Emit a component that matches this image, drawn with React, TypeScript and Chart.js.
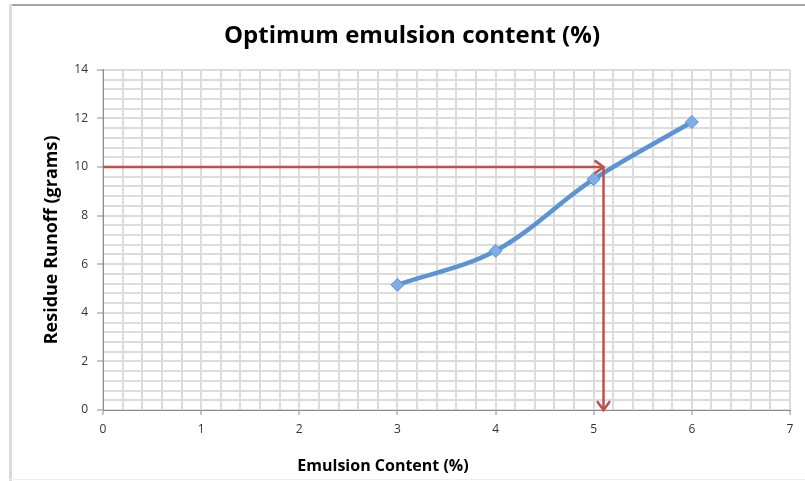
import React, { useEffect, useRef } from "react";
import { Chart, registerables } from "chart.js";

Chart.register(...registerables);

const chartTitle = "Optimum emulsion content (%)";
const xTitle = "Emulsion Content (%)";
const yTitle = "Residue Runoff (grams)";

const emulsionContent = [3, 4, 5, 6];
const residueRunoff = [5.15, 6.55, 9.5, 11.85];

const targetRunoff = 10;
const optimumContent = 5.1;

const xMin = 0, xMax = 7, xGridStep = 0.2, xLabelStep = 1;
const yMin = 0, yMax = 14, yGridStep = 0.4, yLabelStep = 2;

const FONT = "'Open Sans', Lato, sans-serif";
const RED = "#c0504d";
const BLUE = "#5b93d3";

const isMultiple = (v: number, step: number) =>
  Math.abs(v / step - Math.round(v / step)) < 1e-6;

const arrowPlugin = {
  id: "arrowHeads",
  afterDatasetsDraw(chart: any) {
    const ctx = chart.ctx;
    chart.data.datasets.forEach((ds: any, i: number) => {
      if (!ds.arrow) return;
      const meta = chart.getDatasetMeta(i);
      const pts = meta.data;
      if (pts.length < 2) return;
      const a = pts[pts.length - 2];
      const b = pts[pts.length - 1];
      const ang = Math.atan2(b.y - a.y, b.x - a.x);
      const len = 10;
      const spread = Math.PI / 5;
      ctx.save();
      ctx.strokeStyle = ds.borderColor;
      ctx.lineWidth = 2.5;
      ctx.lineCap = "round";
      ctx.beginPath();
      ctx.moveTo(b.x - len * Math.cos(ang - spread), b.y - len * Math.sin(ang - spread));
      ctx.lineTo(b.x, b.y);
      ctx.lineTo(b.x - len * Math.cos(ang + spread), b.y - len * Math.sin(ang + spread));
      ctx.stroke();
      ctx.restore();
    });
  },
};

const xTitlePlugin = {
  id: "xTitleText",
  afterDraw(chart: any) {
    const ctx = chart.ctx;
    ctx.save();
    ctx.font = `bold 16px ${FONT}`;
    ctx.fillStyle = "#000";
    ctx.textAlign = "center";
    ctx.textBaseline = "middle";
    ctx.fillText(xTitle, 383, 466);
    ctx.restore();
  },
};

export default function App() {
  const ref = useRef<HTMLCanvasElement>(null);
  useEffect(() => {
    document.body.style.margin = "0";
    const canvas = ref.current!;
    const chart = new Chart(canvas, {
      type: "line",
      data: {
        datasets: [
          {
            data: [
              { x: xMin, y: targetRunoff },
              { x: optimumContent, y: targetRunoff },
            ],
            borderColor: RED,
            borderWidth: 2.5,
            pointRadius: 0,
            tension: 0,
            arrow: true,
          } as any,
          {
            data: [
              { x: optimumContent, y: targetRunoff },
              { x: optimumContent, y: yMin },
            ],
            borderColor: RED,
            borderWidth: 2.5,
            pointRadius: 0,
            tension: 0,
            arrow: true,
          } as any,
          {
            data: emulsionContent.map((x, i) => ({ x, y: residueRunoff[i] })),
            borderColor: BLUE,
            borderWidth: 4.5,
            tension: 0.35,
            pointStyle: "rectRot",
            pointRadius: 6.5,
            pointBackgroundColor: "#7eaee6",
            pointBorderColor: "#5b93d3",
            pointBorderWidth: 1,
          },
        ],
      },
      options: {
        responsive: false,
        animation: false,
        devicePixelRatio: 1,
        layout: { padding: { left: 34, right: 15, top: 0, bottom: 0 } },
        plugins: {
          legend: { display: false },
          tooltip: { enabled: false },
          title: {
            display: true,
            text: chartTitle,
            color: "#000",
            font: { family: FONT, size: 24, weight: "bold" },
            padding: { top: 22, bottom: 19 },
          },
        },
        scales: {
          x: {
            type: "linear",
            min: xMin,
            max: xMax,
            afterFit: (s: any) => {
              s.height = 71;
            },
            ticks: {
              stepSize: xGridStep,
              maxTicksLimit: 1000,
              autoSkip: false,
              maxRotation: 0,
              padding: 7,
              color: "#333",
              font: { family: FONT, size: 12 },
              callback: (v: any) => (isMultiple(Number(v), xLabelStep) ? String(Math.round(Number(v))) : ""),
            },
            grid: {
              color: "#dcdcdc",
              lineWidth: 2,
              tickLength: 5,
              tickWidth: 1,
              tickColor: (c: any) =>
                c.tick && isMultiple(c.tick.value, xLabelStep) ? "#8c8c8c" : "rgba(0,0,0,0)",
            },
            border: { display: true, color: "#8c8c8c", width: 1 },
          },
          y: {
            type: "linear",
            min: yMin,
            max: yMax,
            afterFit: (s: any) => {
              s.width = 69;
            },
            title: {
              display: true,
              text: yTitle,
              color: "#000",
              font: { family: FONT, size: 18, weight: "bold" },
              padding: { top: 7, bottom: 0 },
            },
            ticks: {
              stepSize: yGridStep,
              maxTicksLimit: 1000,
              autoSkip: false,
              padding: 9,
              color: "#333",
              font: { family: FONT, size: 12 },
              callback: (v: any) => (isMultiple(Number(v), yLabelStep) ? String(Math.round(Number(v))) : ""),
            },
            grid: {
              color: "#dcdcdc",
              lineWidth: 2,
              tickLength: 6,
              tickWidth: 1,
              tickColor: (c: any) =>
                c.tick && isMultiple(c.tick.value, yLabelStep) ? "#8c8c8c" : "rgba(0,0,0,0)",
            },
            border: { display: true, color: "#8c8c8c", width: 1 },
          },
        },
      },
      plugins: [arrowPlugin, xTitlePlugin],
    } as any);
    return () => chart.destroy();
  }, []);

  return (
    <div style={{ position: "relative", width: 805, height: 481, overflow: "hidden", background: "#fff" }}>
      <canvas ref={ref} width={805} height={481} style={{ position: "absolute", left: 0, top: 0 }} />
      <div style={{ position: "absolute", left: 10, top: 4, right: 0, height: 2, background: "#a6a6a6" }} />
      <div style={{ position: "absolute", left: 9, top: 4, width: 3, bottom: 0, background: "#dadada" }} />
      <div style={{ position: "absolute", left: 10, bottom: 1, right: 0, height: 1, background: "#eeeeee" }} />
    </div>
  );
}
